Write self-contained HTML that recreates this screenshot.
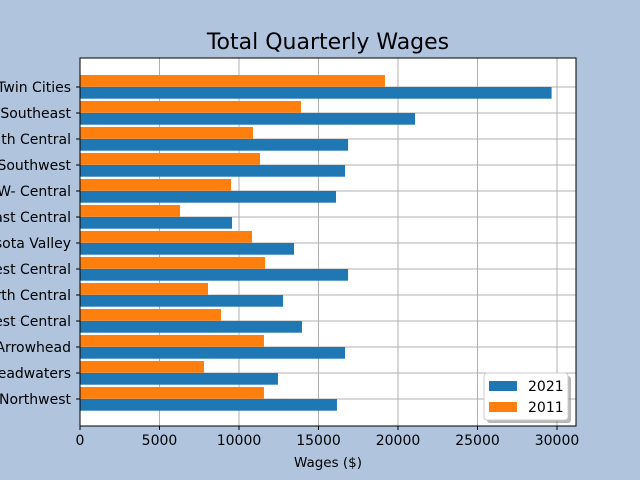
<!DOCTYPE html>
<html><head><meta charset="utf-8"><style>body{margin:0;background:#b0c4de}svg{display:block;font-family:"DejaVu Sans","Liberation Sans",sans-serif}</style></head>
<body>
<svg id="chart" width="640" height="480">
<rect x="0" y="0" width="640" height="480" fill="#b0c4de"/>
<rect x="80" y="58" width="496" height="368" fill="#fff"/>
<g id="grid"></g><g id="bars"></g><g id="axes"></g>
<text x="328" y="49" text-anchor="middle" font-size="22" fill="#000">Total Quarterly Wages</text>
<text x="328" y="467" text-anchor="middle" font-size="13.5" fill="#000">Wages ($)</text>
<g>
<rect x="487" y="376" width="84" height="47" rx="3" fill="#888" opacity="0.6"/>
<rect x="484" y="373" width="84" height="47" rx="3" fill="#fff" stroke="#ccc"/>
<rect x="489" y="381" width="28" height="10" fill="#1f77b4"/>
<text x="528" y="391" font-size="14">2021</text>
<rect x="489" y="402" width="28" height="10" fill="#ff7f0e"/>
<text x="528" y="412" font-size="14">2011</text>
</g>
</svg>
<script>
const categories=["Twin Cities","Southeast","South Central","Southwest","NW- Central","East Central","Minnesota Valley","Southwest Central","North Central","West Central","Arrowhead","Headwaters","Northwest"];
const values2021=[29660,21070,16860,16670,16100,9560,13460,16860,12770,13960,16670,12450,16160];
const values2011=[19180,13900,10880,11320,9500,6290,10820,11640,8050,8870,11570,7800,11570];
const xTicks=[0,5000,10000,15000,20000,25000,30000];
const NS="http://www.w3.org/2000/svg";
const X0=80,XS=79.5/5000,Y0=87,YS=26,BH=11.7;
const xs=v=>X0+v*XS, ys=i=>Y0+i*YS;
function mk(tag,attrs,parent,text){const e=document.createElementNS(NS,tag);for(const k in attrs)e.setAttribute(k,attrs[k]);if(text!==undefined)e.textContent=text;document.getElementById(parent).appendChild(e);return e;}
xTicks.forEach(t=>{
 const g=mk('line',{x1:xs(t),x2:xs(t),y1:58,y2:426,stroke:'#b0b0b0','stroke-width':1},'grid');
 
 
 const tk=mk('line',{x1:xs(t),x2:xs(t),y1:426,y2:430,stroke:'#000'},'axes');
 
 
 const tl=mk('text',{x:xs(t),y:445,'text-anchor':'middle','font-size':14},'axes',String(t));
 
 
});
categories.forEach((c,i)=>{
 const y=ys(i);
 const g=mk('line',{x1:80,x2:576,y1:y,y2:y,stroke:'#b0b0b0','stroke-width':1},'grid');
 
 
 const b=mk('rect',{x:X0,y:y,width:xs(values2021[i])-X0,height:BH,fill:'#1f77b4'},'bars');
 
 
 const o=mk('rect',{x:X0,y:y-BH-0.3,width:xs(values2011[i])-X0,height:BH,fill:'#ff7f0e'},'bars');
 
 
 const tk=mk('line',{x1:76,x2:80,y1:y,y2:y,stroke:'#000'},'axes');
 
 
 const tl=mk('text',{x:71,y:y+5,'text-anchor':'end','font-size':14},'axes',c);
 
 
});
const fr=mk('rect',{x:80,y:58,width:496,height:368,fill:'none',stroke:'#000','stroke-width':1},'axes');


</script>
</body></html>
